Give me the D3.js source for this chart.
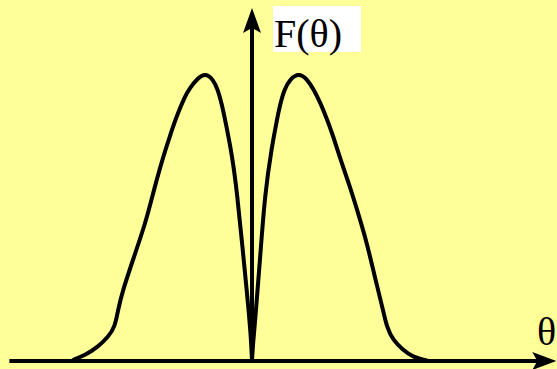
<!DOCTYPE html>
<html lang="en">
<head>
  <meta charset="UTF-8">
  <title>F(theta)</title>
  <script src="https://cdnjs.cloudflare.com/ajax/libs/d3/7.8.5/d3.min.js"></script>
  <style>
    body { margin: 0; background: #ffff99; }
    svg { display: block; }
    .lobe { fill: none; stroke: #000; stroke-width: 4px; stroke-linejoin: round; }
    .axis { stroke: #000; stroke-width: 4px; }
    .lbl { font-family: "Liberation Serif", "Times New Roman", serif; font-size: 40px; fill: #000; }
  </style>
</head>
<body>
  <div id="graph"></div>
  <script>
    // left and right lobes, angle in degrees, F normalised to peak
    var leftTheta = [-90.5, -89, -84, -77.4, -72.4, -68.9, -67.4, -64.9, -59.8, -53.8, -51.3, -47.9, -44.6, -41.2, -37.9, -33.7, -31.2, -27.7, -23.6, -19.6, -17.1, -15.1, -13.6, -10, -7.5, -5, -2.5, -0.5, 0];
    var leftF     = [0, 0.007, 0.02, 0.049, 0.083, 0.118, 0.177, 0.247, 0.352, 0.475, 0.54, 0.63, 0.71, 0.783, 0.85, 0.92, 0.948, 0.979, 1, 0.979, 0.941, 0.889, 0.84, 0.715, 0.583, 0.41, 0.236, 0.083, 0];
    var rightTheta = [0, 0.5, 1.5, 4, 6.5, 10, 12.6, 14.1, 16.1, 19.1, 23.6, 27.7, 31.2, 34.2, 37.7, 40.7, 44.5, 49.3, 53.5, 57.8, 63.3, 65.9, 67.9, 70.9, 75.9, 80.9, 87, 88.5];
    var rightF     = [0, 0.06, 0.132, 0.35, 0.583, 0.745, 0.84, 0.889, 0.941, 0.979, 1, 0.979, 0.941, 0.899, 0.84, 0.783, 0.70, 0.604, 0.51, 0.41, 0.247, 0.177, 0.115, 0.073, 0.038, 0.014, 0.003, 0];
    // axis extents (same units)
    var thetaAxis = [-122, 153];
    var fAxis = [0, 1.226];
    var yLabel = "F(θ)";
    var xLabel = "θ";

    var width = 557, height = 369;

    var x = d3.scaleLinear().domain([-90, 90]).range([73, 431]);
    var y = d3.scaleLinear().domain([0, 1]).range([361, 73]);

    var svg = d3.select("#graph").append("svg")
        .attr("width", width)
        .attr("height", height);

    svg.append("rect")
        .attr("width", width).attr("height", height)
        .attr("fill", "#ffff99");

    // label box behind F(theta)
    svg.append("rect")
        .attr("x", x(0) + 21).attr("y", 6)
        .attr("width", 88).attr("height", 46)
        .attr("fill", "#fff");

    // axes
    svg.append("line").attr("class", "axis")
        .attr("x1", x(thetaAxis[0])).attr("y1", y(0))
        .attr("x2", x(thetaAxis[1]) - 12).attr("y2", y(0));
    svg.append("line").attr("class", "axis")
        .attr("x1", x(0)).attr("y1", y(0))
        .attr("x2", x(0)).attr("y2", y(fAxis[1]) + 12);

    // arrowheads
    var xt = x(thetaAxis[1]), yt = y(0);
    svg.append("path")
        .attr("d", "M" + xt + "," + yt + "L" + (xt - 24) + "," + (yt - 9) +
                   "L" + (xt - 19) + "," + yt + "L" + (xt - 24) + "," + (yt + 9) + "Z")
        .attr("fill", "#000");
    var ax = x(0), at = y(fAxis[1]);
    svg.append("path")
        .attr("d", "M" + ax + "," + at + "L" + (ax - 9) + "," + (at + 25) +
                   "L" + ax + "," + (at + 20) + "L" + (ax + 9) + "," + (at + 25) + "Z")
        .attr("fill", "#000");

    // curves (basis smooths small reading errors)
    var line = d3.line()
        .x(function(d) { return x(d[0]); })
        .y(function(d) { return y(d[1]); })
        .curve(d3.curveBasis);

    [[leftTheta, leftF], [rightTheta, rightF]].forEach(function(s) {
      svg.append("path")
          .datum(d3.zip(s[0], s[1]))
          .attr("class", "lobe")
          .attr("d", line);
    });

    // labels
    svg.append("text").attr("class", "lbl")
        .attr("x", x(0) + 22).attr("y", 47)
        .text(yLabel);
    svg.append("text").attr("class", "lbl")
        .attr("x", 537).attr("y", 345)
        .text(xLabel);
  </script>
</body>
</html>
